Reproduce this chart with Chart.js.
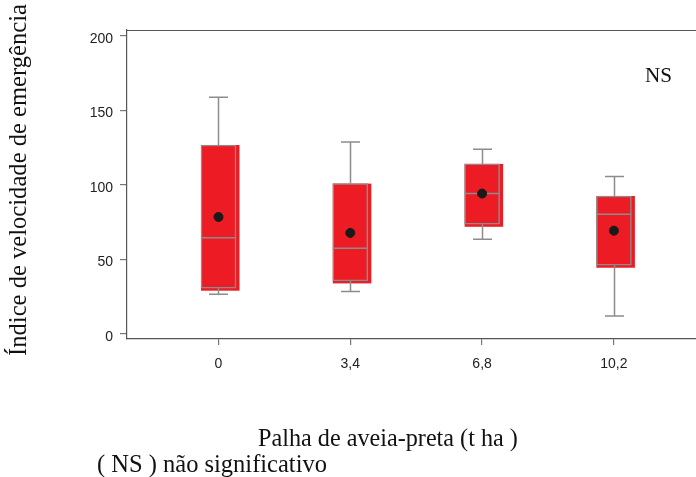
<!DOCTYPE html>
<html>
<head>
<meta charset="utf-8">
<script src="https://cdn.jsdelivr.net/npm/chart.js@4.4.1/dist/chart.umd.min.js"></script>
<style>
  html, body { margin: 0; padding: 0; background: #fff; overflow: hidden; }
  #wrap { width: 696px; height: 477px; overflow: hidden; }
  canvas { display: block; }
</style>
</head>
<body>
<div id="wrap"><canvas id="c" width="720" height="477"></canvas></div>
<script>
// ---- data ----
const doses       = [0, 3.4, 6.8, 10.2];
const doseLabels  = ['0', '3,4', '6,8', '10,2'];
const whiskerLow  = [26.6, 28.4, 63.6, 12.1];
const q1          = [30.7, 35.6, 73.6, 46.1];
const medians     = [64.6, 57.5, 94.2, 80.3];
const q3          = [126.8, 100.9, 114.1, 92.6];
const whiskerHigh = [158.9, 128.9, 124.0, 105.6];
const means       = [78.5, 67.8, 94.2, 69.3];
const yTicks      = [0, 50, 100, 150, 200];

const RED = 'rgb(237,28,36)';
const GREY = '#8c8c8c';
const AXIS = '#555';

const boxPlugin = {
  id: 'boxExtras',
  beforeDatasetDraw(chart, args) {
    if (args.index !== 0) return;
    const ctx = chart.ctx, y = chart.scales.y;
    const meta = chart.getDatasetMeta(0);
    ctx.save();
    ctx.fillStyle = RED;
    meta.data.forEach((bar, i) => {
      const p = bar.getProps(['x', 'width']);
      const top = y.getPixelForValue(q3[i]);
      const bot = y.getPixelForValue(q1[i]);
      ctx.fillRect(p.x - p.width / 2, top, p.width + 3.5, bot - top + 2.5);
    });
    ctx.restore();
  },
  afterDatasetDraw(chart, args) {
    if (args.index !== 0) return;
    const ctx = chart.ctx, y = chart.scales.y;
    const meta = chart.getDatasetMeta(0);
    ctx.save();
    ctx.strokeStyle = GREY;
    ctx.lineWidth = 1.5;
    meta.data.forEach((bar, i) => {
      const p = bar.getProps(['x', 'width']);
      const cx = Math.round(p.x) + 0.5;
      const half = p.width / 2;
      const yq1 = y.getPixelForValue(q1[i]);
      const yq3 = y.getPixelForValue(q3[i]);
      const ylo = y.getPixelForValue(whiskerLow[i]);
      const yhi = y.getPixelForValue(whiskerHigh[i]);
      const ymed = y.getPixelForValue(medians[i]);
      ctx.beginPath();
      ctx.moveTo(cx, yq3); ctx.lineTo(cx, yhi);
      ctx.moveTo(cx - 9.5, yhi); ctx.lineTo(cx + 9.5, yhi);
      ctx.moveTo(cx, yq1); ctx.lineTo(cx, ylo);
      ctx.moveTo(cx - 9.5, ylo); ctx.lineTo(cx + 9.5, ylo);
      ctx.moveTo(p.x - half, ymed); ctx.lineTo(p.x + half, ymed);
      ctx.stroke();
    });
    ctx.restore();
  },
  afterDraw(chart) {
    const ctx = chart.ctx, a = chart.chartArea;
    ctx.save();
    // top frame line
    ctx.strokeStyle = AXIS;
    ctx.lineWidth = 1.2;
    ctx.beginPath();
    ctx.moveTo(a.left, a.top + 0.5);
    ctx.lineTo(a.right, a.top + 0.5);
    ctx.stroke();

    function fitFont(text, target, base) {
      ctx.font = base + 'px "Liberation Serif", "Times New Roman", serif';
      const w = ctx.measureText(text).width;
      const size = base * target / w;
      ctx.font = size.toFixed(2) + 'px "Liberation Serif", "Times New Roman", serif';
    }
    ctx.fillStyle = '#111';
    ctx.textBaseline = 'middle';

    // y axis title
    const yTitle = 'Índice de velocidade de emergência';
    ctx.save();
    ctx.translate(20, 180);
    ctx.rotate(-Math.PI / 2);
    fitFont(yTitle, 352, 20);
    ctx.textAlign = 'center';
    ctx.fillText(yTitle, 0, 0);
    ctx.restore();

    // x axis title
    const xTitle = 'Palha de aveia-preta (t ha )';
    fitFont(xTitle, 260, 20);
    ctx.textAlign = 'left';
    ctx.fillText(xTitle, 258, 440);

    // footnote
    const foot = '( NS ) não significativo';
    fitFont(foot, 230, 20);
    ctx.fillText(foot, 97, 466);

    // NS label
    fitFont('NS', 27, 18);
    ctx.fillText('NS', 645, 76);
    ctx.restore();
  }
};

new Chart(document.getElementById('c'), {
  type: 'bar',
  data: {
    datasets: [
      {
        type: 'bar',
        data: doses.map((d, i) => ({ x: d, y: [q1[i], q3[i]] })),
        backgroundColor: RED,
        borderColor: GREY,
        borderWidth: 1.5,
        borderSkipped: false,
        barThickness: 35,
        order: 2
      },
      {
        type: 'scatter',
        data: doses.map((d, i) => ({ x: d, y: means[i] })),
        backgroundColor: '#1a1a1a',
        borderColor: '#1a1a1a',
        pointRadius: 4.5,
        order: 1
      }
    ]
  },
  options: {
    responsive: false,
    animation: false,
    devicePixelRatio: 1,
    layout: { padding: { top: 30, right: 15, left: 0, bottom: 0 } },
    plugins: { legend: { display: false }, tooltip: { enabled: false } },
    scales: {
      x: {
        type: 'linear',
        offset: false,
        min: -2.36,
        max: 12.55,
        afterBuildTicks(s) { s.ticks = doses.map(v => ({ value: v })); },
        afterFit(s) { s.height = 138; },
        grid: { offset: false, drawOnChartArea: false, drawTicks: true, tickLength: 6, color: '#777', lineWidth: 1.2 },
        border: { display: true, color: AXIS, width: 1.2 },
        ticks: {
          color: '#222',
          padding: 11,
          font: { family: '"Liberation Sans", Arial, sans-serif', size: 14 },
          callback: (v) => { const i = doses.indexOf(v); return i >= 0 ? doseLabels[i] : ''; },
          maxRotation: 0
        }
      },
      y: {
        min: -3.4,
        max: 204,
        afterBuildTicks(s) { s.ticks = yTicks.map(v => ({ value: v })); },
        afterFit(s) { s.width = 127; },
        grid: { drawOnChartArea: false, drawTicks: true, tickLength: 7, color: '#777', lineWidth: 1.2 },
        border: { display: true, color: AXIS, width: 1.2 },
        ticks: {
          color: '#222',
          padding: 7,
          labelOffset: 3,
          font: { family: '"Liberation Sans", Arial, sans-serif', size: 14 }
        }
      }
    }
  },
  plugins: [boxPlugin]
});
</script>
</body>
</html>
